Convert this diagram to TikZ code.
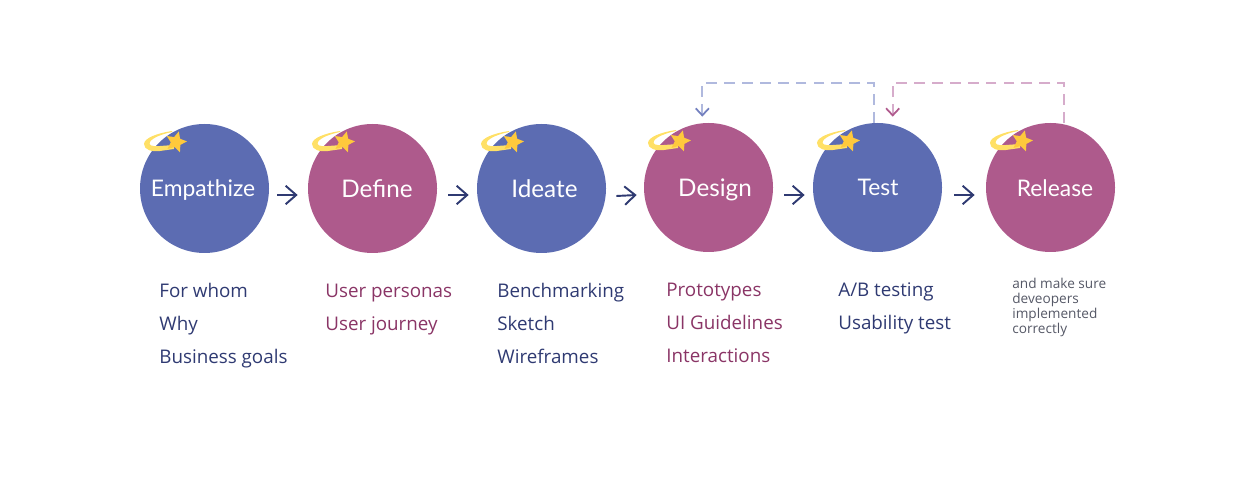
\documentclass[tikz,border=0pt]{standalone}
\usepackage{fontspec}
\setmainfont{Open Sans}
\newfontfamily\titlefont{Lato}
\usetikzlibrary{positioning,arrows.meta,shapes.geometric}
\definecolor{stageblue}{HTML}{5C6CB2}
\definecolor{stagepink}{HTML}{AE5A8C}
\definecolor{textblue}{HTML}{2F3A72}
\definecolor{textpink}{HTML}{8A3566}
\definecolor{notegrey}{HTML}{555866}
\definecolor{dashblue}{HTML}{B0B9DE}
\definecolor{dashpink}{HTML}{D6ACCB}
\definecolor{tipblue}{HTML}{7380BF}
\definecolor{tippink}{HTML}{B05A8D}
\definecolor{swirlyellow}{HTML}{FFE066}
\definecolor{staryellow}{HTML}{FFC93C}
\tikzset{
  stage/.style={circle, minimum size=129*0.02cm, inner sep=0pt},
  stagetitle/.style={anchor=base, inner sep=0pt, text=white, font=\titlefont\fontsize{13}{15}\selectfont},
  widetitle/.style={stagetitle, font=\titlefont\fontsize{13.8}{15}\selectfont},
  blueitem/.style={anchor=base west, inner sep=0pt, text=textblue, font=\fontsize{10.7}{13}\selectfont},
  pinkitem/.style={anchor=base west, inner sep=0pt, text=textpink, font=\fontsize{10.7}{13}\selectfont},
  noteitem/.style={anchor=base west, inner sep=0pt, align=left, text=notegrey, font=\fontsize{7.75}{8.5}\selectfont},
  flow/.style={draw=textblue, line width=1.1pt, -{Straight Barb[length=6pt,width=10.5pt]}},
  backblue/.style={draw=dashblue, line width=1pt, dash pattern=on 6.2pt off 4pt, -{Straight Barb[length=4pt,width=7.5pt,color=tipblue]}},
  backpink/.style={draw=dashpink, line width=1pt, dash pattern=on 6.2pt off 4pt, -{Straight Barb[length=4pt,width=7.5pt,color=tippink]}},
  comet/.pic={
    \fill[swirlyellow] (-4,-11) .. controls (-18,-9) and (-32,-4) .. (-32,2)
      .. controls (-32,8) and (-24,10) .. (-16,9) -- (-2,7) -- (-2,3) -- (-16,4)
      .. controls (-24,5) and (-28,3) .. (-26,0)
      .. controls (-24,-4) and (-14,-8) .. (-4,-10) -- cycle;
    \node[star, star points=5, star point ratio=2.1, minimum size=22*0.02cm, inner sep=0pt, fill=staryellow, shape border rotate=-15] (-star) at (0,0) {};
  }
}
\begin{document}
\begin{tikzpicture}[x=0.02cm,y=-0.02cm]
  \useasboundingbox (0,0) rectangle (1257,482);

  \node[stage, fill=stageblue] (empathize) at (204.5,188.5) {};
  \node[stage, fill=stagepink] (define) at (372.5,188.5) {};
  \node[stage, fill=stageblue] (ideate) at (541.5,188.5) {};
  \node[stage, fill=stagepink] (design) at (708.5,187.5) {};
  \node[stage, fill=stageblue] (test) at (877.5,187.5) {};
  \node[stage, fill=stagepink] (release) at (1050.5,187.5) {};

  \foreach \name in {empathize,define,ideate,design,test,release}
    \pic (\name comet) at ([shift={(-28.5,-46.5)}]\name.center) {comet};

  \node[stagetitle] (empathizetitle) at (203,197) {Empathize};
  \node[widetitle] (definetitle) at (377,198) {Define};
  \node[widetitle] (ideatetitle) at (544.5,198) {Ideate};
  \node[widetitle] (designtitle) at (715,197) {Design};
  \node[stagetitle] (testtitle) at (878,196) {Test};
  \node[stagetitle] (releasetitle) at (1055,197) {Release};

  \draw[flow] ([shift={(8,6.5)}]empathize.east) -- ([shift={(-10,6.5)}]define.west);
  \draw[flow] ([shift={(11,6.5)}]define.east) -- ([shift={(-8,6.5)}]ideate.west);
  \draw[flow] ([shift={(10,7.5)}]ideate.east) -- ([shift={(-7,7.5)}]design.west);
  \draw[flow] ([shift={(11,7.5)}]design.east) -- ([shift={(-8,7.5)}]test.west);
  \draw[flow] ([shift={(12,7.5)}]test.east) -- ([shift={(-11,7.5)}]release.west);

  \draw[backblue] ([xshift=-3.5*0.02cm]test.north) -- ++(0,-40) -| ([shift={(-6.2,-6)}]design.north);
  \draw[backpink] ([xshift=13.5*0.02cm]release.north) -- ++(0,-40) -| ([shift={(15.2,-6)}]test.north);

  \node[blueitem] (whom) at (159,298) {For whom};
  \node[blueitem] (why) at (159,331) {Why};
  \node[blueitem] (goals) at (159,364) {Business goals};

  \node[pinkitem] (personas) at (325,298) {User personas};
  \node[pinkitem] (journey) at (325,331) {User journey};

  \node[blueitem] (benchmarking) at (497,298) {Benchmarking};
  \node[blueitem] (sketch) at (497,331) {Sketch};
  \node[blueitem] (wireframes) at (497,364) {Wireframes};

  \node[pinkitem] (prototypes) at (666,297) {Prototypes};
  \node[pinkitem] (guidelines) at (666,330) {UI Guidelines};
  \node[pinkitem] (interactions) at (666,363) {Interactions};

  \node[blueitem] (abtesting) at (838,297) {A/B testing};
  \node[blueitem] (usability) at (838,330) {Usability test};

  \node[noteitem] (note) at (1012,289) {and make sure};
  \node[noteitem] (note2) at (1012,304) {deveopers};
  \node[noteitem] (note3) at (1012,319) {implemented};
  \node[noteitem] (note4) at (1012,334) {correctly};
\end{tikzpicture}
\end{document}
